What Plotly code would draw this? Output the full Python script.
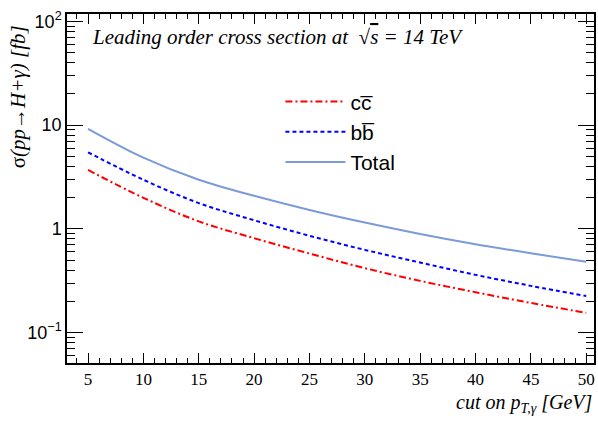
import plotly.graph_objects as go

# Data
pt_cut = [5, 10, 15, 20, 25, 30, 35, 40, 45, 50]
sigma_cc = [3.69, 1.99, 1.18, 0.813, 0.578, 0.418, 0.315, 0.245, 0.193, 0.155]
sigma_bb = [5.46, 2.97, 1.77, 1.21, 0.857, 0.627, 0.473, 0.36, 0.282, 0.225]
sigma_total = [9.2, 4.85, 2.97, 2.08, 1.52, 1.15, 0.893, 0.711, 0.581, 0.481]

y_tickvals = [0.1, 1, 10, 100]
y_ticktext = ["10<sup>\u22121</sup>", "1", "10", "10<sup>2</sup>"]
x_tickvals = [5, 10, 15, 20, 25, 30, 35, 40, 45, 50]

SERIF = "Liberation Serif"
SANS = "Liberation Sans"

fig = go.Figure()
fig.add_trace(go.Scatter(x=pt_cut, y=sigma_cc, mode="lines", name="cc\u0305",
                         line=dict(color="#ff0000", width=2, dash="7px,3px,2px,3px", shape="spline")))
fig.add_trace(go.Scatter(x=pt_cut, y=sigma_bb, mode="lines", name="bb\u0305",
                         line=dict(color="#0000ff", width=2, dash="4px,3px", shape="spline")))
fig.add_trace(go.Scatter(x=pt_cut, y=sigma_total, mode="lines", name="Total",
                         line=dict(color="#7b9bd8", width=2, shape="spline")))

minor_y = [v * m for v in [0.01, 0.1, 1, 10] for m in range(2, 10)]
minor_y = [v for v in minor_y if 0.05 < v < 118]
minor_x = [v for v in range(4, 51) if v % 5 != 0]

fig.update_layout(
    width=598, height=422,
    margin=dict(l=67, r=2, t=14, b=59),
    paper_bgcolor="white", plot_bgcolor="white",
    showlegend=True,
    legend=dict(x=0.405, y=0.807, xanchor="left", yanchor="top",
                font=dict(family=SANS, size=21, color="black"),
                bgcolor="rgba(0,0,0,0)", tracegroupgap=0, itemwidth=60),
    xaxis=dict(range=[3.1, 50.7], showgrid=False, zeroline=False,
               showline=True, linecolor="black", linewidth=1.5, mirror="allticks",
               ticks="inside", ticklen=10, tickwidth=1, tickcolor="black",
               tickvals=x_tickvals,
               tickfont=dict(family=SERIF, size=17, color="black"),
               minor=dict(tickvals=minor_x, ticks="inside", ticklen=5, tickcolor="black", showgrid=False)),
    yaxis=dict(type="log", range=[-1.293, 2.07], showgrid=False, zeroline=False,
               showline=True, linecolor="black", linewidth=1.5, mirror="allticks",
               ticks="inside", ticklen=16, tickwidth=1, tickcolor="black",
               tickvals=y_tickvals, ticktext=y_ticktext,
               tickfont=dict(family=SANS, size=18, color="black"),
               minor=dict(tickvals=minor_y, ticks="inside", ticklen=8, tickcolor="black", showgrid=False)),
    annotations=[
        dict(text="<i>Leading order cross section at</i>  \u221a<span style='text-decoration:overline'><i>s</i></span><i> = 14 TeV</i>",
             xref="paper", yref="paper", x=(90 - 67) / 528.4, y=(362.7 - 37) / 349.2,
             xanchor="left", yanchor="middle", showarrow=False,
             font=dict(family=SERIF, size=21, color="black")),
        dict(text="<i>cut on p<sub>T,\u03b3</sub> [GeV]</i>",
             xref="paper", yref="paper", x=1.0, y=-0.075,
             xanchor="right", yanchor="top", showarrow=False,
             font=dict(family=SERIF, size=20, color="black")),
        dict(text="\u03c3<i>(pp\u2192H+\u03b3) [fb]</i>",
             xref="paper", yref="paper", x=-0.093, y=0.975, textangle=-90,
             xanchor="center", yanchor="top", showarrow=False,
             font=dict(family=SERIF, size=21, color="black")),
    ],
)

fig.write_html("out.html")
